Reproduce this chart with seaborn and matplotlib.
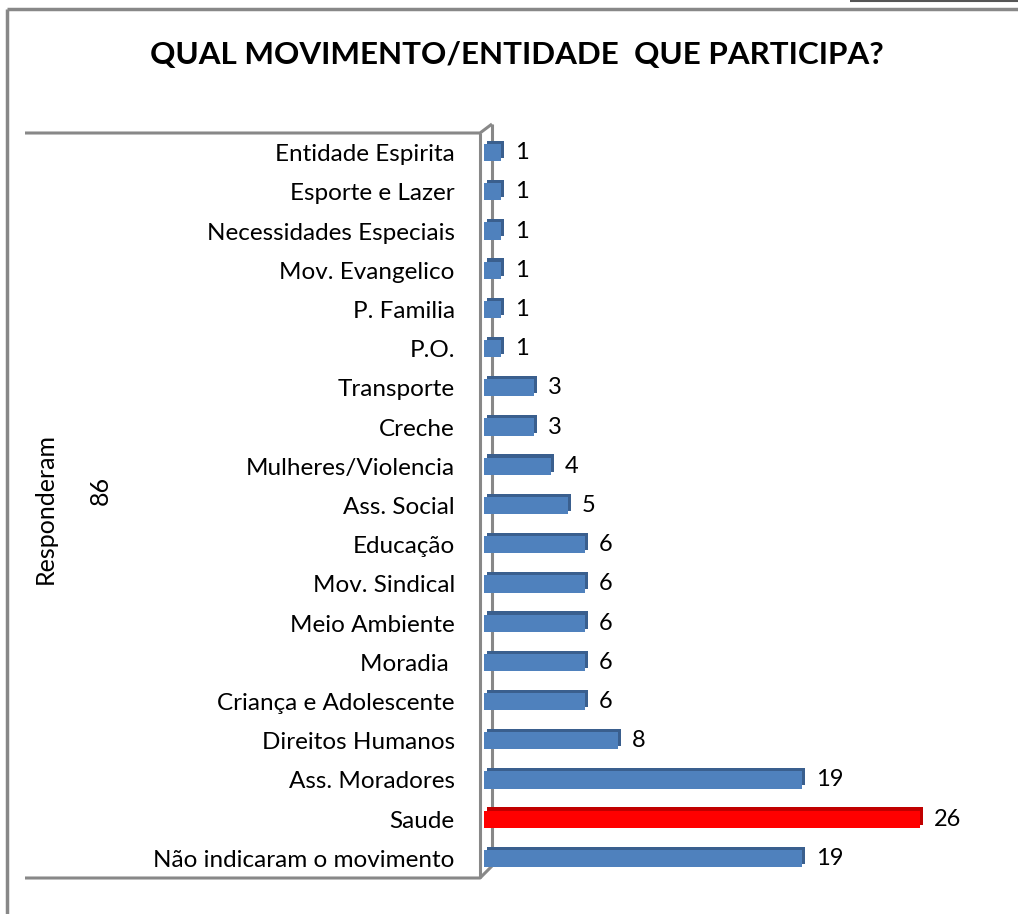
import matplotlib
matplotlib.use("Agg")
import matplotlib.pyplot as plt
import matplotlib.patheffects as pe
from matplotlib.lines import Line2D
import seaborn as sns
import pandas as pd

categories = [
    "Entidade Espirita", "Esporte e Lazer", "Necessidades Especiais",
    "Mov. Evangelico", "P. Familia", "P.O.", "Transporte", "Creche",
    "Mulheres/Violencia", "Ass. Social", "Educação", "Mov. Sindical",
    "Meio Ambiente", "Moradia ", "Criança e Adolescente", "Direitos Humanos",
    "Ass. Moradores", "Saude", "Não indicaram o movimento",
]
values = [1, 1, 1, 1, 1, 1, 3, 3, 4, 5, 6, 6, 6, 6, 6, 8, 19, 26, 19]
highlight = "Saude"
group_label = "Responderam"
group_total = "86"
title = "QUAL MOVIMENTO/ENTIDADE  QUE PARTICIPA?"

W, H = 1018, 914
sns.set_theme(style="white")
plt.rcParams["font.family"] = ["Lato", "DejaVu Sans"]

fig = plt.figure(figsize=(W / 100, H / 100), dpi=100)
fig.patch.set_facecolor("white")

def fx(x):
    return x / W

def fy(y):
    return 1 - y / H

ax = fig.add_axes([fx(484), fy(878), fx(1000) - fx(484), fy(133) - fy(878)])
ax.patch.set_visible(False)

df = pd.DataFrame({"category": categories, "value": values})
blue, red = "#4F81BD", "#FF0000"
pal = {c: (red if c == highlight else blue) for c in categories}
sns.barplot(data=df, x="value", y="category", hue="category", palette=pal,
            orient="h", width=0.44, saturation=1, legend=False, ax=ax,
            order=categories, linewidth=0)

for patch, cat in zip(ax.patches, categories):
    dark = "#C00000" if cat == highlight else "#3A5F8E"
    patch.set_edgecolor("none")
    patch.set_linewidth(0)
    patch.set_path_effects([
        pe.SimplePatchShadow(offset=(2.3, 2.3), shadow_rgbFace=dark, alpha=1.0),
        pe.Normal(),
    ])
    patch.set_zorder(3)

for cont in ax.containers:
    ax.bar_label(cont, padding=10, fontsize=17, color="black")

ax.set_xlim(0, 516 / 16.75)
ax.set_xlabel("")
ax.set_ylabel("")
ax.set_xticks([])
ax.tick_params(axis="y", length=0, pad=21, labelsize=17.5, labelcolor="black")
for s in ax.spines.values():
    s.set_visible(False)

grey = "#888888"
def line(xs, ys, lw=2.2, z=-1, color=grey):
    fig.add_artist(Line2D([fx(x) for x in xs], [fy(y) for y in ys],
                          transform=fig.transFigure, color=color, lw=lw,
                          zorder=z, solid_capstyle="butt"))

# outer chart frame
line([7, 7], [9, 914], lw=2.5)
line([7, 1018], [9, 9], lw=2.5)
line([850, 1018], [1, 1], lw=1.5, color="#555555")
# wall + category box
line([492, 492], [124, 866])
line([25, 480, 492], [133, 133, 124])
line([480, 480], [133, 878])
line([25, 480, 492], [878, 878, 866])

fig.text(fx(517), fy(55), title, ha="center", va="center",
         fontsize=22.6, fontweight="bold", color="black")
fig.text(fx(45), fy(508), group_label, rotation=90, ha="center", va="center",
         fontsize=18, color="black")
fig.text(fx(100), fy(490), group_total, rotation=90, ha="center", va="center",
         fontsize=18, color="black")

fig.savefig("out.png", dpi=100, facecolor="white")
